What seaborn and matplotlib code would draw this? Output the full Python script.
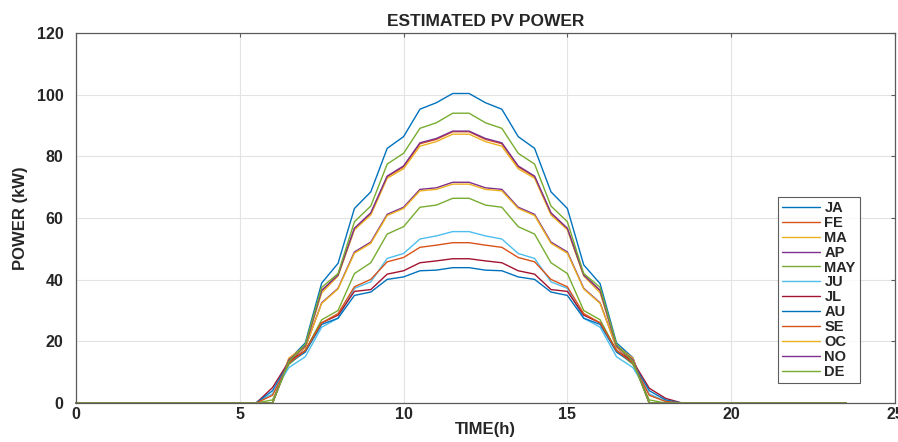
"""Estimated PV power per month, MATLAB-like line chart."""

import matplotlib

matplotlib.use("Agg")

import matplotlib.pyplot as plt
import numpy as np
import pandas as pd
import seaborn as sns

# half-hour time steps over one day
hours = np.arange(0, 24, 0.5)

months = ["JA", "FE", "MA", "AP", "MAY", "JU", "JL", "AU", "SE", "OC", "NO", "DE"]

# power (kW) per half hour, 0:00 .. 23:30
JA = [0, 0, 0, 0, 0, 0, 0, 0, 0, 0, 0, 0,
      0, 14, 19.5, 38.9, 45.3, 63.1, 68.5, 82.6, 86.4, 95.3, 97.4, 100.4,
      100.4, 97.4, 95.3, 86.4, 82.6, 68.5, 63.1, 44.8, 38.7, 19.5, 14.7, 0,
      0, 0, 0, 0, 0, 0, 0, 0, 0, 0, 0, 0]
FE = [0, 0, 0, 0, 0, 0, 0, 0, 0, 0, 0, 0,
      0, 14.5, 18.5, 36.5, 41.5, 56.5, 61.5, 73.4, 76.6, 84.1, 85.5, 88.0,
      88.0, 85.5, 84.1, 76.6, 73.4, 61.5, 56.5, 41.5, 36.5, 18.5, 14.5, 0,
      0, 0, 0, 0, 0, 0, 0, 0, 0, 0, 0, 0]
MA = [0, 0, 0, 0, 0, 0, 0, 0, 0, 0, 0, 0,
      0, 14.5, 18.5, 35.7, 41.2, 56.2, 61.0, 72.9, 76.0, 83.3, 84.8, 87.2,
      87.2, 84.8, 83.3, 76.0, 72.9, 61.0, 56.2, 41.2, 35.7, 18.5, 14.5, 0,
      0, 0, 0, 0, 0, 0, 0, 0, 0, 0, 0, 0]
AP = [0, 0, 0, 0, 0, 0, 0, 0, 0, 0, 0, 0,
      0, 13.5, 18.0, 32.5, 37.2, 49.0, 52.2, 61.2, 63.5, 69.3, 69.8, 71.6,
      71.6, 69.8, 69.3, 63.5, 61.2, 52.2, 49.0, 37.2, 32.5, 18.0, 13.5, 0,
      0, 0, 0, 0, 0, 0, 0, 0, 0, 0, 0, 0]
MAY = [0, 0, 0, 0, 0, 0, 0, 0, 0, 0, 0, 0,
       1.0, 12.5, 17.0, 27.0, 30.0, 42.0, 45.5, 54.8, 57.2, 63.5, 64.2, 66.4,
       66.4, 64.2, 63.5, 57.2, 54.8, 45.5, 42.0, 30.0, 27.0, 17.0, 12.5, 1.0,
       0, 0, 0, 0, 0, 0, 0, 0, 0, 0, 0, 0]
JU = [0, 0, 0, 0, 0, 0, 0, 0, 0, 0, 0, 0,
      3.0, 11.5, 15.0, 24.6, 27.5, 37.2, 39.3, 46.9, 48.5, 53.2, 54.2, 55.6,
      55.6, 54.2, 53.2, 48.5, 46.9, 39.3, 37.2, 27.5, 24.6, 15.0, 11.5, 3.0,
      0.5, 0, 0, 0, 0, 0, 0, 0, 0, 0, 0, 0]
JL = [0, 0, 0, 0, 0, 0, 0, 0, 0, 0, 0, 0,
      5.0, 13.5, 17.0, 26.0, 28.5, 36.2, 36.8, 41.8, 42.9, 45.5, 46.1, 46.8,
      46.8, 46.1, 45.5, 42.9, 41.8, 36.8, 36.2, 28.5, 26.0, 17.0, 13.5, 4.8,
      1.5, 0, 0, 0, 0, 0, 0, 0, 0, 0, 0, 0]
AU = [0, 0, 0, 0, 0, 0, 0, 0, 0, 0, 0, 0,
      4.0, 13.0, 16.5, 25.5, 27.5, 34.9, 36.0, 40.1, 40.9, 42.9, 43.1, 43.9,
      43.9, 43.1, 42.9, 40.9, 40.1, 36.0, 34.9, 27.5, 25.5, 16.5, 13.0, 4.0,
      1.0, 0, 0, 0, 0, 0, 0, 0, 0, 0, 0, 0]
SE = [0, 0, 0, 0, 0, 0, 0, 0, 0, 0, 0, 0,
      2.5, 13.0, 17.0, 26.0, 29.0, 37.7, 40.1, 45.8, 47.2, 50.5, 51.2, 52.0,
      52.0, 51.2, 50.5, 47.2, 45.8, 40.1, 37.7, 29.0, 26.0, 17.0, 13.0, 2.5,
      0.5, 0, 0, 0, 0, 0, 0, 0, 0, 0, 0, 0]
OC = [0, 0, 0, 0, 0, 0, 0, 0, 0, 0, 0, 0,
      0, 14.0, 18.0, 32.3, 37.0, 48.6, 51.8, 60.8, 63.1, 68.8, 69.3, 71.0,
      71.0, 69.3, 68.8, 63.1, 60.8, 51.8, 48.6, 37.0, 32.3, 18.0, 14.0, 0,
      0, 0, 0, 0, 0, 0, 0, 0, 0, 0, 0, 0]
NO = [0, 0, 0, 0, 0, 0, 0, 0, 0, 0, 0, 0,
      0, 14.0, 18.5, 36.5, 41.5, 56.7, 61.7, 73.6, 76.9, 84.4, 85.8, 88.2,
      88.2, 85.8, 84.4, 76.9, 73.6, 61.7, 56.7, 41.5, 36.5, 18.5, 14.0, 0,
      0, 0, 0, 0, 0, 0, 0, 0, 0, 0, 0, 0]
DE = [0, 0, 0, 0, 0, 0, 0, 0, 0, 0, 0, 0,
      0, 13.5, 19.0, 37.5, 42.0, 58.8, 63.9, 77.5, 81.0, 89.1, 90.9, 94.0,
      94.0, 90.9, 89.1, 81.0, 77.5, 63.9, 58.8, 42.0, 37.5, 19.0, 13.5, 0,
      0, 0, 0, 0, 0, 0, 0, 0, 0, 0, 0, 0]

series = [JA, FE, MA, AP, MAY, JU, JL, AU, SE, OC, NO, DE]

# MATLAB default line colour order, cycled
matlab_colors = ["#0072BD", "#D95319", "#EDB120", "#7E2F8E", "#77AC30",
                 "#4DBEEE", "#A2142F"]
palette = [matlab_colors[i % 7] for i in range(len(months))]

df = pd.concat(
    [pd.DataFrame({"time": hours, "power": vals, "month": m})
     for m, vals in zip(months, series)],
    ignore_index=True,
)

sns.set_style("whitegrid")
plt.rcParams["font.family"] = ["Liberation Sans", "DejaVu Sans"]
plt.rcParams["font.weight"] = "bold"

fig = plt.figure(figsize=(8.98, 4.42), dpi=100)
ax = fig.add_axes([0.0846, 0.0882, 0.912, 0.837])

sns.lineplot(data=df, x="time", y="power", hue="month", hue_order=months,
             palette=palette, linewidth=1.0, ax=ax, clip_on=False)

ax.set_xlim(0, 25)
ax.set_ylim(0, 120)
ax.set_xticks([0, 5, 10, 15, 20, 25])
ax.set_yticks([0, 20, 40, 60, 80, 100, 120])
ax.grid(True, color="#e3e3e3", linewidth=0.8)
for s in ax.spines.values():
    s.set_color("#5a5a5a")
    s.set_linewidth(0.9)
ax.tick_params(direction="in", top=True, right=True, length=3,
               color="#5a5a5a", labelsize=11.5)
ax.tick_params(axis="x", pad=3)
ax.tick_params(axis="y", pad=9)
for lab in ax.get_xticklabels() + ax.get_yticklabels():
    lab.set_fontweight("bold")

ax.set_title("ESTIMATED PV POWER", fontsize=12.5, fontweight="bold", pad=5)
ax.set_xlabel("TIME(h)", fontsize=12, fontweight="bold", labelpad=0)
ax.set_ylabel("POWER (kW)", fontsize=12, fontweight="bold", labelpad=6)

leg = ax.legend(loc="lower left", bbox_to_anchor=(0.857, 0.054),
                fontsize=10.5, frameon=True, fancybox=False,
                handlelength=2.6, labelspacing=0.06, borderpad=0.3,
                handletextpad=0.3, borderaxespad=0)
leg.get_frame().set_edgecolor("#333333")
leg.get_frame().set_linewidth(0.8)
for t in leg.get_texts():
    t.set_fontweight("bold")

fig.savefig("out.png", dpi=100)
